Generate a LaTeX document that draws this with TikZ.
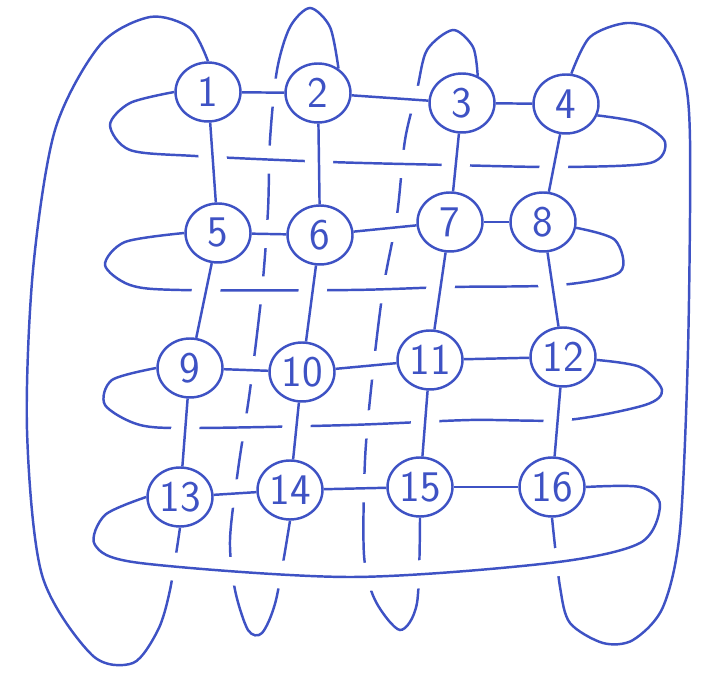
\documentclass[tikz,border=0pt]{standalone}
\usepackage{tikz}
\usetikzlibrary{shapes.geometric}
\definecolor{inkblue}{RGB}{62,82,196}
\pgfdeclarelayer{back}
\pgfsetlayers{back,main}

\begin{document}
\begin{tikzpicture}[x=0.02cm, y=-0.02cm, line width=1.4pt, color=inkblue,
  cell/.style={ellipse, draw, fill=white, minimum width=1.3cm, minimum height=1.18cm, inner sep=0pt, font=\Huge\sffamily},
  over/.style={preaction={draw=white, line width=16pt}}]
  \useasboundingbox (0,0) rectangle (703,678);

  % the sixteen cells
  \node[cell] (n1)  at (208,92)  {1};
  \node[cell] (n2)  at (318,93)  {2};
  \node[cell] (n3)  at (462,103) {3};
  \node[cell] (n4)  at (566,104) {4};
  \node[cell] (n5)  at (218,233) {5};
  \node[cell] (n6)  at (320,235) {6};
  \node[cell] (n7)  at (450,222) {7};
  \node[cell] (n8)  at (543,222) {8};
  \node[cell] (n9)  at (190,368) {9};
  \node[cell] (n10) at (302,372) {10};
  \node[cell] (n11) at (430,360) {11};
  \node[cell] (n12) at (563,357) {12};
  \node[cell] (n13) at (180,497) {13};
  \node[cell] (n14) at (290,490) {14};
  \node[cell] (n15) at (420,487) {15};
  \node[cell] (n16) at (552,487) {16};

  \begin{pgfonlayer}{back}
  \begin{scope}[line width=1.4pt, draw=inkblue]
  % column wrap-arounds (lowest)
  \draw plot[smooth] coordinates {(n1.north) (190,28) (150,17) (100,45) (55,130) (33,270) (27,430) (42,575) (92,655) (133,663) (158,630) (170,590) (n13.south)};
  \draw plot[smooth] coordinates {(n2.50) (330,27) (310,8) (290,27) (277,70) (270,140) (268,210) (262,290) (250,390) (238,470) (230,540) (235,590) (248,630) (262,633) (276,600) (n14.south)};
  \draw plot[smooth] coordinates {(n3.60) (473,47) (453,30) (427,50) (417,90) (405,140) (397,215) (383,290) (372,380) (365,460) (364,555) (375,600) (400,630) (417,603) (n15.south)};
  \draw plot[smooth] coordinates {(n4.80) (590,37) (627,23) (660,33) (683,73) (690,140) (688,350) (680,530) (663,607) (633,640) (603,643) (570,623) (560,587) (n16.south)};

  % row wrap-arounds
  \draw[over] plot[smooth] coordinates {(n1.west) (130,103) (110,125) (130,150) (195,156) (330,162) (450,165) (560,167) (650,163) (665,142) (640,123) (n4.-20)};
  \draw[over] plot[smooth] coordinates {(n5.west) (125,242) (105,265) (130,285) (180,290) (350,290) (450,287) (560,285) (620,272) (615,240) (n8.-10)};
  \draw[over] plot[smooth] coordinates {(n9.west) (112,380) (105,405) (140,425) (195,428) (350,425) (470,420) (567,420) (645,405) (662,390) (640,367) (n12.-5)};
  \draw[over] plot[smooth] coordinates {(n13.west) (105,515) (95,545) (140,563) (350,577) (550,563) (640,543) (660,505) (640,487) (n16.east)};

  % grid edges (on top)
  \foreach \a/\b in {n1/n5, n5/n9, n9/n13, n2/n6, n6/n10, n10/n14, n3/n7, n7/n11, n11/n15, n4/n8, n8/n12, n12/n16,
                     n1/n2, n2/n3, n3/n4, n5/n6, n6/n7, n7/n8, n9/n10, n10/n11, n11/n12, n13/n14, n14/n15, n15/n16}
    \draw[over] (\a) -- (\b);
  \end{scope}
  \end{pgfonlayer}
\end{tikzpicture}
\end{document}
